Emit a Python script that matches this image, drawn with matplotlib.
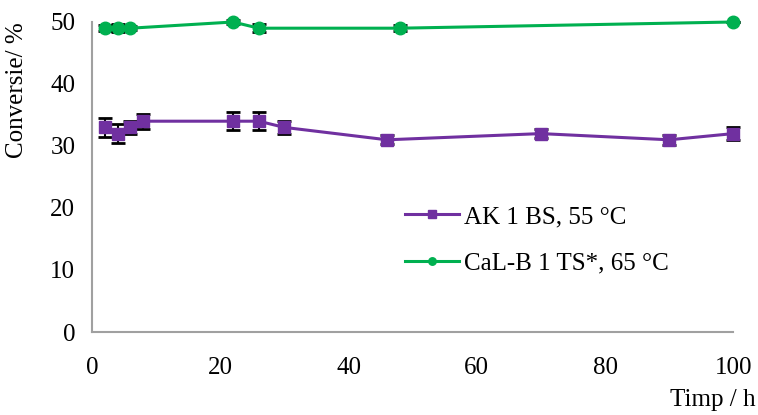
import matplotlib
matplotlib.use('Agg')
import matplotlib.pyplot as plt

# AK 1 BS, 55 °C
ak_x = [2, 4, 6, 8, 22, 26, 30, 46, 70, 90, 100]
ak_y = [33, 32, 33, 34, 34, 34, 33, 31, 32, 31, 32]
ak_err = [1.5, 1.5, 1.0, 1.2, 1.5, 1.5, 1.0, 0.7, 0.7, 0.8, 1.0]

# CaL-B 1 TS*, 65 °C
cal_x = [2, 4, 6, 22, 26, 48, 100]
cal_y = [49, 49, 49, 50, 49, 49, 50]
cal_err = [0.5, 0.6, 0.3, 0.3, 0.6, 0.5, 0.0]

plt.rcParams['font.family'] = ['Liberation Serif', 'DejaVu Serif']
plt.rcParams['font.size'] = 18

fig = plt.figure(figsize=(7.58, 4.15), dpi=100)
ax = fig.add_axes([0.1214, 0.2, 0.846, 0.747])

ax.errorbar(ak_x, ak_y, yerr=ak_err, color='#7030a0', marker='s', markersize=9,
            linewidth=2.2, ecolor='black', elinewidth=1.5, capsize=5, capthick=2,
            label='AK 1 BS, 55 °C', clip_on=False, zorder=3)
ax.errorbar(cal_x, cal_y, yerr=cal_err, color='#00b050', marker='o', markersize=9,
            linewidth=2.2, ecolor='black', elinewidth=1.5, capsize=5, capthick=2,
            label='CaL-B 1 TS*, 65 °C', clip_on=False, zorder=3)

ax.set_xlim(0, 100)
ax.set_ylim(0, 50)
ax.set_xticks([0, 20, 40, 60, 80, 100])
ax.set_yticks([0, 10, 20, 30, 40, 50])
ax.tick_params(length=0, pad=12, labelsize=18)
ax.tick_params(axis='x', pad=18)

for s in ['top', 'right']:
    ax.spines[s].set_visible(False)
for s in ['left', 'bottom']:
    ax.spines[s].set_color('#a0a0a0')
    ax.spines[s].set_linewidth(1.5)

ax.set_ylabel('Conversie/ %', fontsize=18)
ax.yaxis.set_label_coords(-0.1, 0.78)
fig.text(0.997, 0.035, 'Timp / h', ha='right', va='center', fontsize=18)

handles, labels = ax.get_legend_handles_labels()
handles = [h[0] for h in handles]
ax.legend(handles, labels, loc='center left', bbox_to_anchor=(0.488, 0.297),
          frameon=False, fontsize=18, handlelength=2.15, handletextpad=0.2,
          labelspacing=0.95, markerscale=0.6, borderpad=0, borderaxespad=0)

fig.savefig('out.png')
